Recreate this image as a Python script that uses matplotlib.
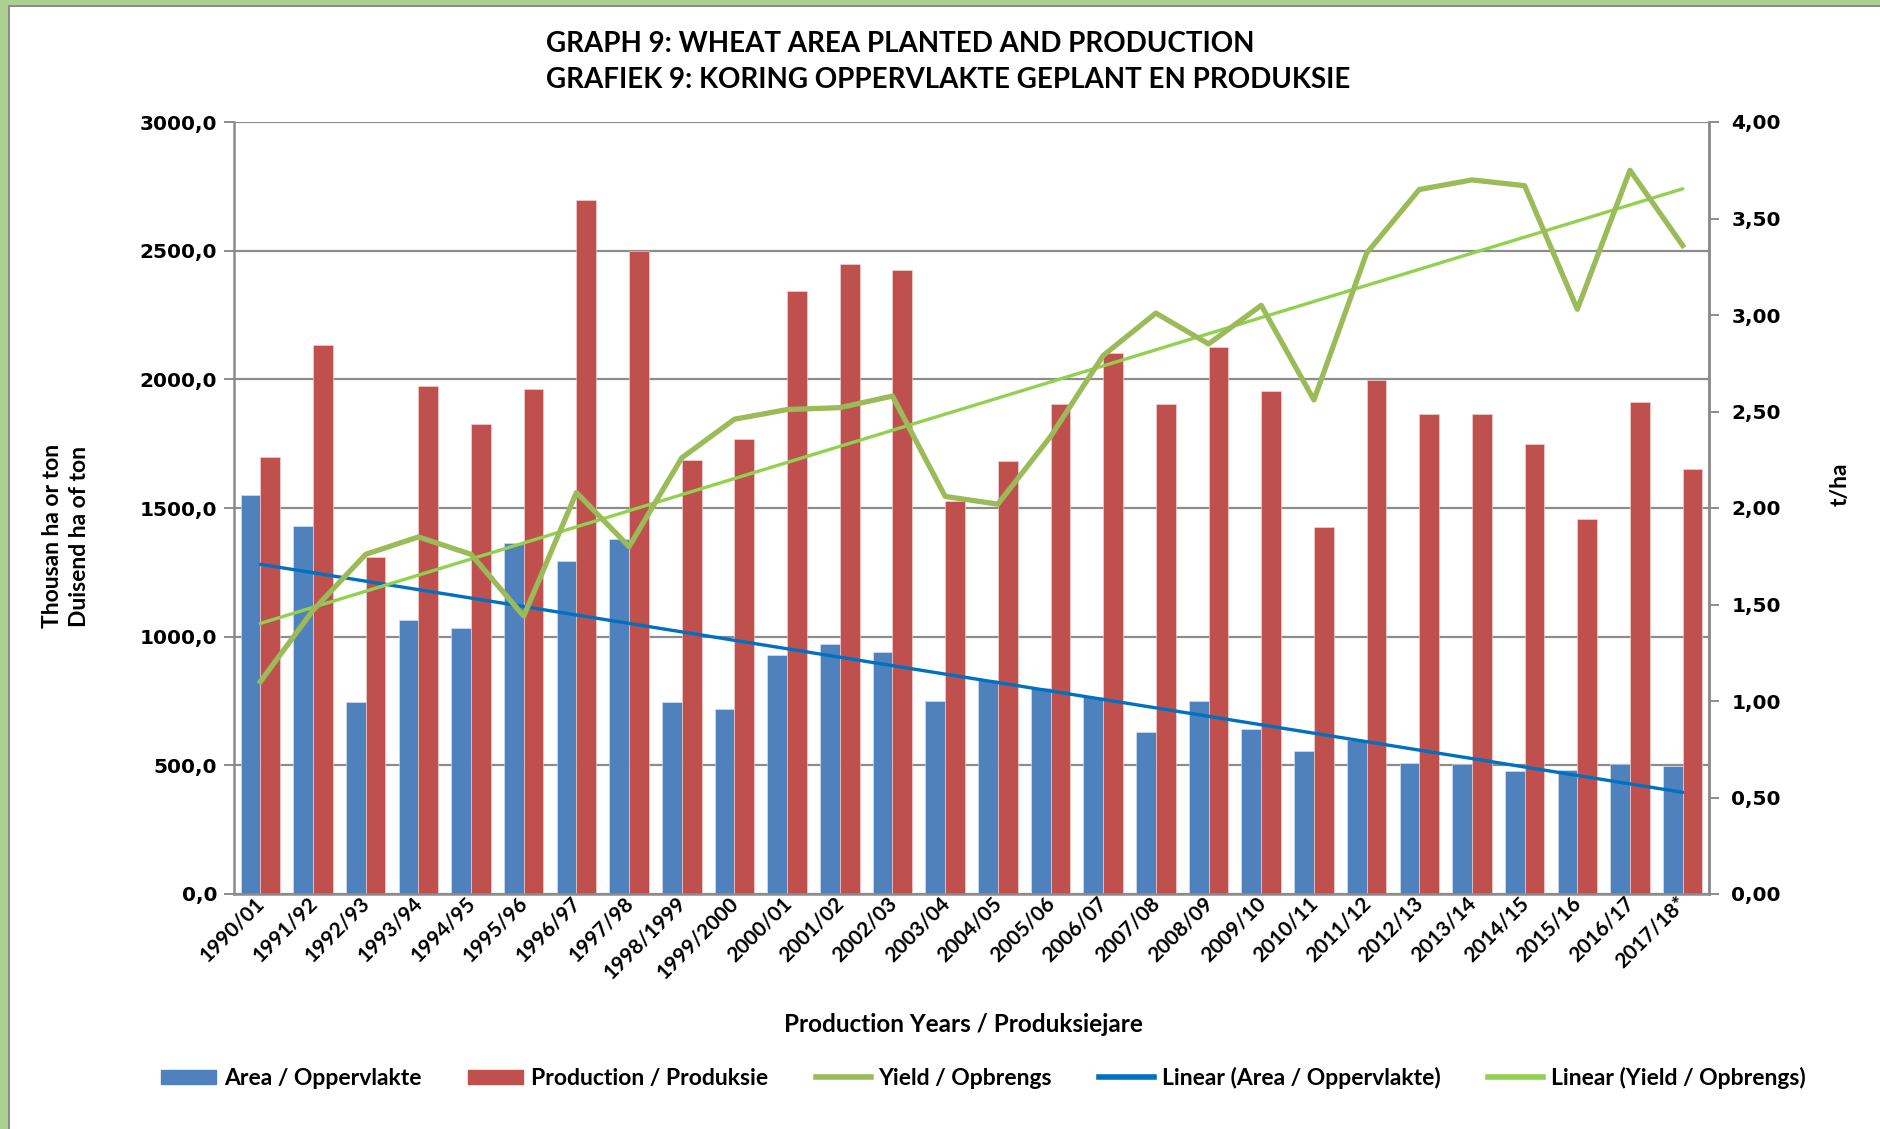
import numpy as np
import matplotlib
matplotlib.use("Agg")
import matplotlib.pyplot as plt
import matplotlib.transforms as mtransforms
from matplotlib.patches import Rectangle
from matplotlib.lines import Line2D
from matplotlib.ticker import FuncFormatter, MultipleLocator

seasons = ["1990/01", "1991/92", "1992/93", "1993/94", "1994/95", "1995/96", "1996/97",
           "1997/98", "1998/1999", "1999/2000", "2000/01", "2001/02", "2002/03", "2003/04",
           "2004/05", "2005/06", "2006/07", "2007/08", "2008/09", "2009/10", "2010/11",
           "2011/12", "2012/13", "2013/14", "2014/15", "2015/16", "2016/17", "2017/18*"]
# thousand ha
area = [1549, 1431, 745, 1066, 1035, 1364, 1293, 1380, 745, 717, 930, 972, 940, 749,
        830, 802, 766, 631, 749, 641, 556, 598, 510, 505, 477, 483, 505, 499]
# thousand ton
production = [1697, 2133, 1311, 1973, 1827, 1963, 2696, 2499, 1685, 1768, 2344, 2448, 2426, 1526,
              1681, 1904, 2103, 1904, 2127, 1955, 1427, 1999, 1867, 1867, 1750, 1457, 1910, 1652]
# t/ha
yld = [1.10, 1.47, 1.76, 1.85, 1.76, 1.44, 2.08, 1.80, 2.26, 2.46, 2.51, 2.52, 2.58, 2.06,
       2.02, 2.37, 2.79, 3.01, 2.85, 3.05, 2.56, 3.32, 3.65, 3.70, 3.67, 3.03, 3.75, 3.36]

BLUE, RED, OLIVE = "#4F81BD", "#C0504D", "#9BBB59"
TREND_A, TREND_Y = "#0070C0", "#92D050"
GRID = "#8C8C8C"
TXT = "Lato"

fig = plt.figure(figsize=(18.8, 11.29), dpi=100)
fig.patch.set_facecolor("white")
# green frame on top/left edges with a gray inner line
W, H = 1880, 1129
fig.add_artist(Rectangle((0, 1 - 5 / H), 1, 5 / H, transform=fig.transFigure, color="#ACD08F", lw=0))
fig.add_artist(Rectangle((0, 1 - 7 / H), 1, 2 / H, transform=fig.transFigure, color="#8C8C8C", lw=0))
fig.add_artist(Rectangle((0, 0), 8 / W, 1 - 5 / H, transform=fig.transFigure, color="#ACD08F", lw=0))
fig.add_artist(Rectangle((8 / W, 0), 2 / W, 1 - 7 / H, transform=fig.transFigure, color="#8C8C8C", lw=0))

ax = fig.add_axes([234 / W, 1 - 894 / H, (1709 - 234) / W, (894 - 122) / H])
x = np.arange(len(seasons))
bw = 0.375
ax.bar(x - bw / 2, area, bw, color=BLUE, edgecolor="#DDE6F2", linewidth=0.4, zorder=2)
ax.bar(x + bw / 2, production, bw, color=RED, edgecolor="#F2DCDB", linewidth=0.4, zorder=2)

# least-squares trend lines
ka, ba = np.polyfit(x, area, 1)
ax.plot(x, ka * x + ba, color=TREND_A, lw=2.4, zorder=3, solid_capstyle="round")

ax.set_ylim(0, 3000)
ax.set_xlim(-0.5, len(seasons) - 0.5)
ax.yaxis.set_major_locator(MultipleLocator(500))
ax.yaxis.set_major_formatter(FuncFormatter(lambda v, p: f"{v:.1f}".replace(".", ",")))
ax.grid(axis="y", color=GRID, lw=1.6, zorder=0)
ax.set_axisbelow(True)
ax.spines["top"].set_visible(False)
for s in ("left", "bottom", "right"):
    ax.spines[s].set_color(GRID)
    ax.spines[s].set_linewidth(1.8)
ax.tick_params(axis="y", length=7, width=1.4, color=GRID, pad=5)
ax.tick_params(axis="x", length=0, pad=0)
for t in ax.get_yticklabels():
    t.set_fontfamily("DejaVu Sans"); t.set_fontweight("bold"); t.set_fontsize(14.5)
ax.set_xticks(x)
ax.set_xticklabels(seasons, rotation=45, ha="right", rotation_mode="anchor",
                   fontsize=15, fontweight="bold", family=TXT)
shift = mtransforms.ScaledTranslation(-6 / 100, 1 / 100, fig.dpi_scale_trans)
for t in ax.get_xticklabels():
    t.set_transform(t.get_transform() + shift)

ax2 = ax.twinx()
ax2.plot(x, yld, color=OLIVE, lw=3.8, zorder=4, solid_joinstyle="round")
ky, by = np.polyfit(x, yld, 1)
ax2.plot(x, ky * x + by, color=TREND_Y, lw=2.4, zorder=3, solid_capstyle="round")
ax2.set_ylim(0, 4)
ax2.yaxis.set_major_locator(MultipleLocator(0.5))
ax2.yaxis.set_major_formatter(FuncFormatter(lambda v, p: f"{v:.2f}".replace(".", ",")))
for s in ("top", "left", "bottom"):
    ax2.spines[s].set_visible(False)
ax2.spines["right"].set_color(GRID)
ax2.spines["right"].set_linewidth(1.8)
ax2.tick_params(axis="y", length=7, width=1.4, color=GRID, pad=9)
for t in ax2.get_yticklabels():
    t.set_fontfamily("DejaVu Sans"); t.set_fontweight("bold"); t.set_fontsize(14.5)

fig.text(546 / W, 1 - 44 / H, "GRAPH 9: WHEAT AREA PLANTED AND PRODUCTION", ha="left", va="center",
         fontsize=20, fontweight="bold", family=TXT)
fig.text(546 / W, 1 - 80 / H, "GRAFIEK 9: KORING OPPERVLAKTE GEPLANT EN PRODUKSIE", ha="left",
         va="center", fontsize=20, fontweight="bold", family=TXT)
fig.text(66 / W, 1 - 536 / H, "Thousan ha or ton\nDuisend ha of ton", rotation=90, ha="center",
         va="center", fontsize=16.5, fontweight="bold", family=TXT, linespacing=1.35)
fig.text(1840 / W, 1 - 484 / H, "t/ha", rotation=90, ha="center", va="center",
         fontsize=16.5, fontweight="bold", family=TXT)
fig.text(963 / W, 1 - 1025 / H, "Production Years / Produksiejare", ha="center",
         va="center", fontsize=17.5, fontweight="bold", family=TXT)

handles = [Rectangle((0, 0), 1, 1, color=BLUE), Rectangle((0, 0), 1, 1, color=RED),
           Line2D([], [], color=OLIVE, lw=4), Line2D([], [], color=TREND_A, lw=4),
           Line2D([], [], color=TREND_Y, lw=4)]
labels = ["Area / Oppervlakte", "Production / Produksie", "Yield / Opbrengs",
          "Linear (Area / Oppervlakte)", "Linear (Yield / Opbrengs)"]
fig.legend(handles, labels, loc="center", bbox_to_anchor=(0.523, 1 - 1078 / H), ncol=5,
           frameon=False, prop={"family": TXT, "weight": "bold", "size": 16.5},
           handlelength=2.4, handleheight=0.6, handletextpad=0.35, columnspacing=2.05)

fig.savefig("out.png", dpi=100)
